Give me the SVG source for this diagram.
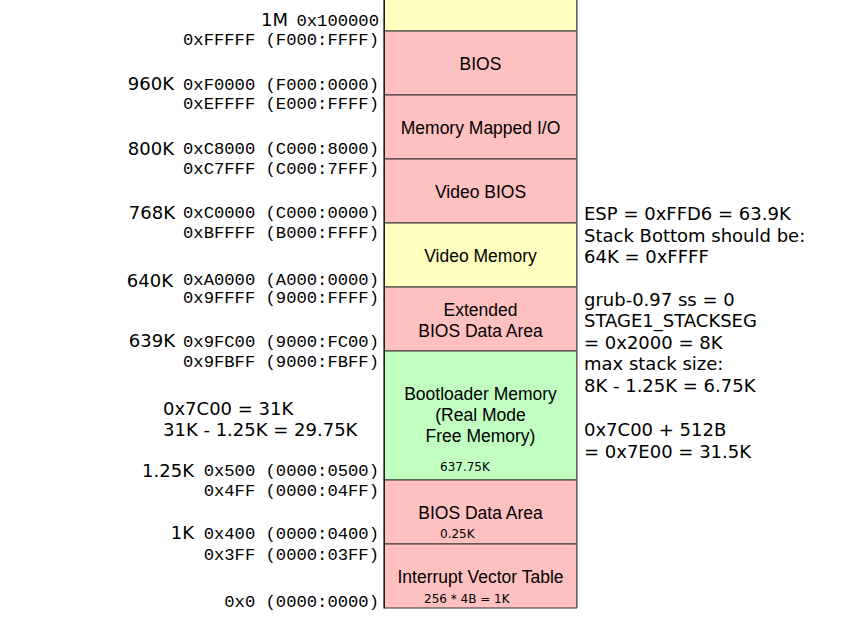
<svg xmlns="http://www.w3.org/2000/svg" width="843" height="623" viewBox="0 0 843 623">
<style>
.box{stroke:#333;stroke-width:1}
.pink{fill:#FFC0C0}
.yel{fill:#FFFFC0}
.grn{fill:#C0FFC0}
.lbl{font-family:"Liberation Sans",Arial,sans-serif;font-size:17.5px;fill:#000;text-anchor:middle}
.sm{font-family:"DejaVu Sans",sans-serif;font-size:12px;fill:#000}
.big{font-family:"DejaVu Sans",sans-serif;font-size:18px;fill:#000;text-anchor:end}
.hex{font-family:"Liberation Mono","Courier New",monospace;font-size:17.2px;fill:#000;text-anchor:end}
.note{font-family:"DejaVu Sans",sans-serif;font-size:18px;fill:#000}
</style>
<rect width="843" height="623" fill="#fff"/>
<g id="region-above-1m"><rect class="box yel" x="384.5" y="-2" width="192" height="33"/></g>
<g id="region-bios"><rect class="box pink" x="384.5" y="31" width="192" height="64"/><text class="lbl" x="480.5" y="70">BIOS</text></g>
<g id="region-mmio"><rect class="box pink" x="384.5" y="95" width="192" height="64"/><text class="lbl" x="480.5" y="134">Memory Mapped I/O</text></g>
<g id="region-video-bios"><rect class="box pink" x="384.5" y="159" width="192" height="64"/><text class="lbl" x="480.5" y="198">Video BIOS</text></g>
<g id="region-video-memory"><rect class="box yel" x="384.5" y="223" width="192" height="64"/><text class="lbl" x="480.5" y="262">Video Memory</text></g>
<g id="region-ebda"><rect class="box pink" x="384.5" y="287" width="192" height="64"/><text class="lbl" x="480.5" y="316">Extended</text><text class="lbl" x="480.5" y="337">BIOS Data Area</text></g>
<g id="region-bootloader"><rect class="box grn" x="384.5" y="351" width="192" height="129"/><text class="lbl" x="480.5" y="400">Bootloader Memory</text><text class="lbl" x="480.5" y="421">(Real Mode</text><text class="lbl" x="480.5" y="442">Free Memory)</text><text class="sm" x="440" y="471">637.75K</text></g>
<g id="region-bda"><rect class="box pink" x="384.5" y="480" width="192" height="64"/><text class="lbl" x="480.5" y="519">BIOS Data Area</text><text class="sm" x="440" y="538">0.25K</text></g>
<g id="region-ivt"><rect class="box pink" x="384.5" y="544" width="192" height="64"/><text class="lbl" x="480.5" y="583">Interrupt Vector Table</text><text class="sm" x="424" y="603">256 * 4B = 1K</text></g>
<line x1="577" y1="-2" x2="577" y2="608" stroke="#777" stroke-width="1.5"/>
<line x1="384" y1="-2" x2="384" y2="608.5" stroke="#111" stroke-width="1.2"/>
<g id="address-labels">
<text class="big" x="288" y="25.5">1M</text><text class="hex" x="379" y="26">0x100000</text>
<text class="hex" x="379" y="45">0xFFFFF (F000:FFFF)</text>
<text class="big" x="174" y="89.5">960K</text><text class="hex" x="379" y="90">0xF0000 (F000:0000)</text>
<text class="hex" x="379" y="109">0xEFFFF (E000:FFFF)</text>
<text class="big" x="174" y="154.5">800K</text><text class="hex" x="379" y="154">0xC8000 (C000:8000)</text>
<text class="hex" x="379" y="174">0xC7FFF (C000:7FFF)</text>
<text class="big" x="175" y="218.5">768K</text><text class="hex" x="379" y="218">0xC0000 (C000:0000)</text>
<text class="hex" x="379" y="238">0xBFFFF (B000:FFFF)</text>
<text class="big" x="173" y="287">640K</text><text class="hex" x="379" y="285">0xA0000 (A000:0000)</text>
<text class="hex" x="379" y="303">0x9FFFF (9000:FFFF)</text>
<text class="big" x="175" y="346.5">639K</text><text class="hex" x="379" y="347">0x9FC00 (9000:FC00)</text>
<text class="hex" x="379" y="367">0x9FBFF (9000:FBFF)</text>
<text class="big" x="194" y="476.5">1.25K</text><text class="hex" x="379" y="476">0x500 (0000:0500)</text>
<text class="hex" x="379" y="496">0x4FF (0000:04FF)</text>
<text class="big" x="194" y="538.5">1K</text><text class="hex" x="379" y="539">0x400 (0000:0400)</text>
<text class="hex" x="379" y="560">0x3FF (0000:03FF)</text>
<text class="hex" x="379" y="607">0x0 (0000:0000)</text>
</g>
<g id="notes-left">
<text class="note" x="163" y="415">0x7C00 = 31K</text>
<text class="note" x="163" y="436">31K - 1.25K = 29.75K</text>
</g>
<g id="notes-right">
<text class="note" x="584" y="220">ESP = 0xFFD6 = 63.9K</text>
<text class="note" x="584" y="242">Stack Bottom should be:</text>
<text class="note" x="584" y="263">64K = 0xFFFF</text>
<text class="note" x="584" y="306">grub-0.97 ss = 0</text>
<text class="note" x="584" y="327">STAGE1_STACKSEG</text>
<text class="note" x="584" y="349">= 0x2000 = 8K</text>
<text class="note" x="584" y="370">max stack size:</text>
<text class="note" x="584" y="392">8K - 1.25K = 6.75K</text>
<text class="note" x="584" y="436">0x7C00 + 512B</text>
<text class="note" x="584" y="458">= 0x7E00 = 31.5K</text>
</g>
</svg>
